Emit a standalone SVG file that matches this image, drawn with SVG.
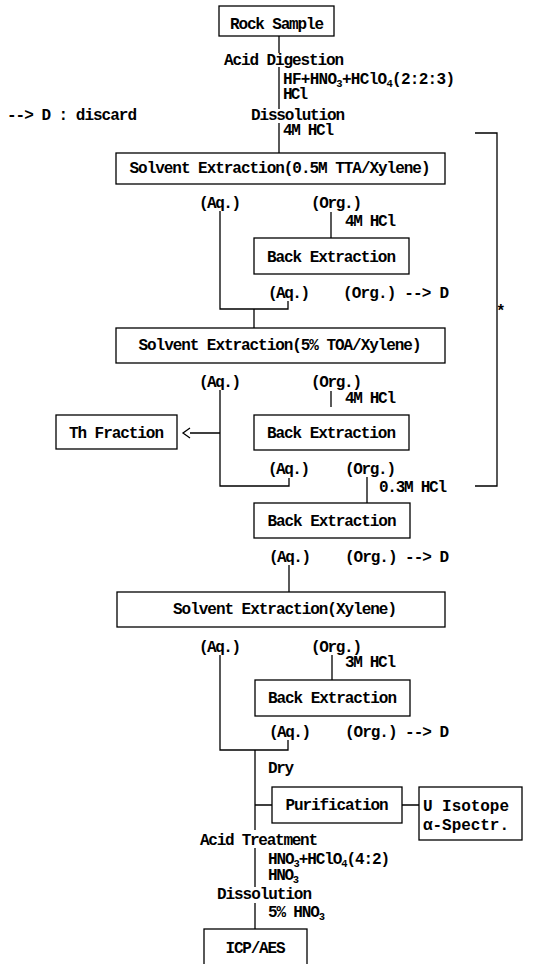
<svg xmlns="http://www.w3.org/2000/svg" width="555" height="964" viewBox="0 0 555 964">
<style>
text{font-family:"Liberation Mono","DejaVu Sans Mono",monospace;font-size:16px;font-weight:bold;fill:#000}
.c{text-anchor:middle}
.s{font-size:10.5px}
rect{fill:#fff;stroke:#000;stroke-width:1.3}
#connectors path{fill:none;stroke:#000;stroke-width:1.3}
</style>
<rect x="0" y="0" width="555" height="964" style="stroke:none"/>
<g id="connectors">
<path d="M279,36V53M279,67V109M279,123V153"/>
<path d="M331,212V238"/>
<path d="M220,211V309H288V301M254,309V328"/>
<path d="M331,391V407"/>
<path d="M220,390V486H289V478"/>
<path d="M190,433H220M190,428L183,433L190,438"/>
<path d="M367,477V503"/>
<path d="M475,133H497V486H475"/>
<path d="M289,565V592"/>
<path d="M332,655V680"/>
<path d="M220,655V750H288V740M255,750V830M255,848V887M255,903V929"/>
<path d="M255,805H272M402,805H419"/>
</g>
<g id="rock"><rect x="219" y="6" width="115" height="30"/><text x="277" y="29" class="c" textLength="94">Rock Sample</text></g>
<g id="digest">
<text x="224" y="65" textLength="120">Acid Digestion</text>
<text x="283" y="84" textLength="172">HF+HNO<tspan class="s" dy="2.5">3</tspan><tspan dy="-2.5">+HClO</tspan><tspan class="s" dy="2.5">4</tspan><tspan dy="-2.5">(2:2:3)</tspan></text>
<text x="283" y="99" textLength="25">HCl</text>
<text x="251" y="120" textLength="94">Dissolution</text>
<text x="283" y="135" textLength="51">4M HCl</text>
</g>
<g id="legend"><text x="7" y="120" textLength="130">--&gt; D : discard</text></g>
<g id="se1"><rect x="116" y="153" width="329" height="31"/><text x="280" y="173" class="c" textLength="301">Solvent Extraction(0.5M TTA/Xylene)</text></g>
<g id="phase1"><text x="199" y="208" textLength="42">(Aq.)</text><text x="311" y="208" textLength="51">(Org.)</text><text x="345" y="226" textLength="51">4M HCl</text></g>
<g id="be1"><rect x="254" y="238" width="155" height="36"/><text x="331.5" y="262" class="c" textLength="129">Back Extraction</text></g>
<g id="phase2"><text x="268" y="298" textLength="42">(Aq.)</text><text x="343" y="298" textLength="106">(Org.) --&gt; D</text></g>
<g id="star"><text x="496" y="316">*</text></g>
<g id="se2"><rect x="116" y="328" width="329" height="35"/><text x="280" y="350" class="c" textLength="283">Solvent Extraction(5% TOA/Xylene)</text></g>
<g id="phase3"><text x="199" y="387" textLength="42">(Aq.)</text><text x="311" y="387" textLength="51">(Org.)</text><text x="345" y="403" textLength="51">4M HCl</text></g>
<g id="th"><rect x="56" y="415" width="121" height="34"/><text x="116.5" y="438" class="c" textLength="95">Th Fraction</text></g>
<g id="be2"><rect x="254" y="415" width="155" height="35"/><text x="331.5" y="438" class="c" textLength="129">Back Extraction</text></g>
<g id="phase4"><text x="268" y="474" textLength="42">(Aq.)</text><text x="345" y="474" textLength="51">(Org.)</text><text x="379" y="492" textLength="68">0.3M HCl</text></g>
<g id="be3"><rect x="254" y="503" width="156" height="35"/><text x="332" y="526" class="c" textLength="129">Back Extraction</text></g>
<g id="phase5"><text x="269" y="562" textLength="42">(Aq.)</text><text x="345" y="562" textLength="104">(Org.) --&gt; D</text></g>
<g id="se3"><rect x="117" y="592" width="328" height="35"/><text x="285" y="614" class="c" textLength="224">Solvent Extraction(Xylene)</text></g>
<g id="phase6"><text x="199" y="652" textLength="42">(Aq.)</text><text x="311" y="652" textLength="51">(Org.)</text><text x="345" y="667" textLength="51">3M HCl</text></g>
<g id="be4"><rect x="255" y="680" width="155" height="36"/><text x="332.5" y="703" class="c" textLength="129">Back Extraction</text></g>
<g id="phase7"><text x="269" y="737" textLength="42">(Aq.)</text><text x="345" y="737" textLength="104">(Org.) --&gt; D</text><text x="268" y="773" textLength="26">Dry</text></g>
<g id="purif"><rect x="272" y="787" width="130" height="36"/><text x="337" y="810" class="c" textLength="103">Purification</text></g>
<g id="uiso"><rect x="419" y="787" width="103" height="53"/><text x="423" y="811" textLength="86">U Isotope</text><text x="423" y="830" textLength="86">α-Spectr.</text></g>
<g id="acidtr">
<text x="200" y="845" textLength="118">Acid Treatment</text>
<text x="268" y="864" textLength="122">HNO<tspan class="s" dy="2.5">3</tspan><tspan dy="-2.5">+HClO</tspan><tspan class="s" dy="2.5">4</tspan><tspan dy="-2.5">(4:2)</tspan></text>
<text x="268" y="880" textLength="31">HNO<tspan class="s" dy="2.5">3</tspan></text>
<text x="217" y="899" textLength="95">Dissolution</text>
<text x="268" y="917" textLength="57">5% HNO<tspan class="s" dy="2.5">3</tspan></text>
</g>
<g id="icp"><rect x="204" y="929" width="103" height="40"/><text x="255.5" y="953" class="c" textLength="60">ICP/AES</text></g>
</svg>
